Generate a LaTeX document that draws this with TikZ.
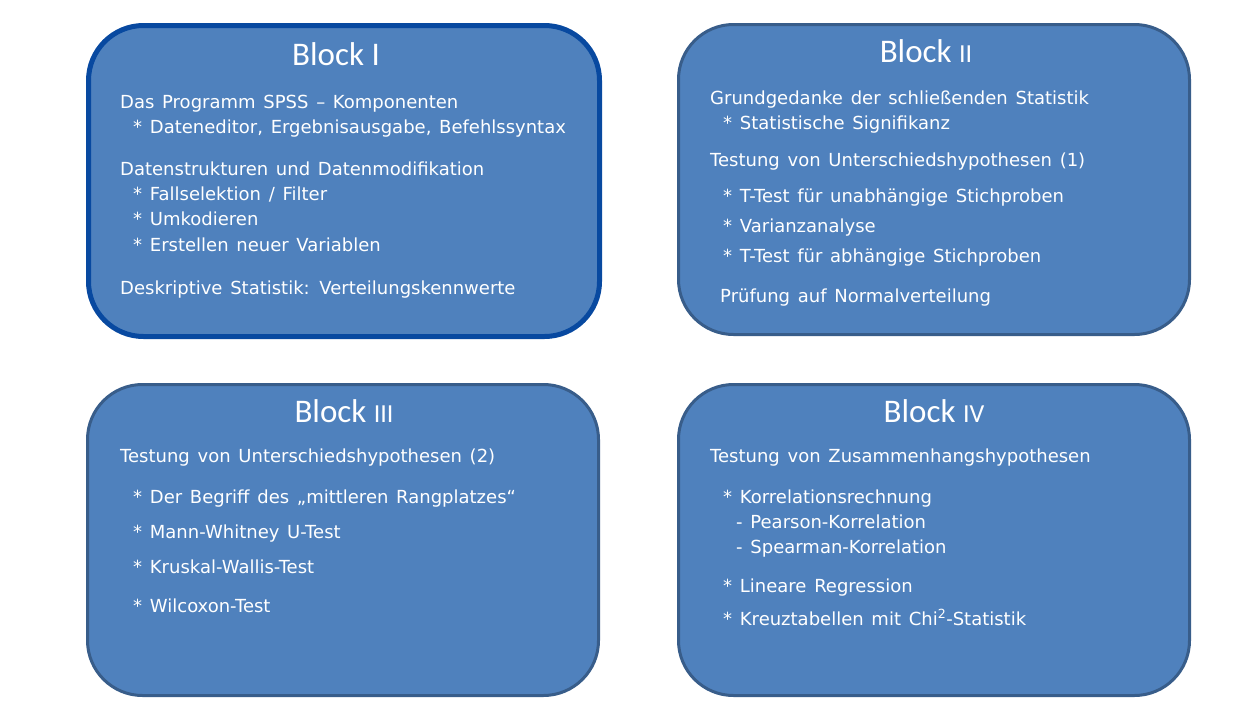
\documentclass[tikz,border=0pt]{standalone}
\usepackage{fontspec}
\setmainfont{DejaVu Sans}[WordSpace=1.35]
\newfontfamily\titlefont{Carlito}
\definecolor{boxfill}{HTML}{4F81BD}
\definecolor{boxedge}{HTML}{385D8A}
\definecolor{edgeone}{HTML}{0849A0}
\begin{document}
\begin{tikzpicture}[x=1pt,y=-1pt,
  box/.style={draw=boxedge, line width=3pt, fill=boxfill, rounded corners=55pt, anchor=north west, inner sep=0},
  txt/.style={text=white, font=\fontsize{18}{22}\selectfont, anchor=mid west, inner sep=0, yshift=-3.5pt},
  ttl/.style={text=white, font=\titlefont\fontsize{33}{36}\selectfont, anchor=center, inner sep=0}]
\useasboundingbox (0,0) rectangle (1240,718);
\fill[white] (0,0) rectangle (1240,718);
% boxes
\node[box, draw=edgeone, line width=5pt, minimum width=511pt, minimum height=311pt] (b1) at (86,23) {};
\node[box, minimum width=511pt, minimum height=310pt] (b2) at (677,23) {};
\node[box, minimum width=511pt, minimum height=311pt] (b3) at (86,383) {};
\node[box, minimum width=511pt, minimum height=311pt] (b4) at (677,383) {};
% titles
\node[ttl] (t1) at (336,54) {Block I};
\node[ttl] (t2) at (926,51) {Block {\fontsize{26}{30}\selectfont II}};
\node[ttl] (t3) at (344,411) {Block {\fontsize{26}{30}\selectfont III}};
\node[ttl] (t4) at (934,411) {Block {\fontsize{26}{30}\selectfont IV}};
% Block I
\node[txt] (a1) at (120,102) {Das Programm SPSS – Komponenten};
\node[txt] (a2) at (133,127) {* Dateneditor, Ergebnisausgabe, Befehlssyntax};
\node[txt] (a3) at (120,169) {Datenstrukturen und Datenmodifikation};
\node[txt] (a4) at (133,194) {* Fallselektion / Filter};
\node[txt] (a5) at (133,219) {* Umkodieren};
\node[txt] (a6) at (133,245) {* Erstellen neuer Variablen};
\node[txt] (a7) at (120,288) {Deskriptive Statistik: Verteilungskennwerte};
% Block II
\node[txt] (c1) at (710,98) {Grundgedanke der schließenden Statistik};
\node[txt] (c2) at (723,123) {* Statistische Signifikanz};
\node[txt] (c3) at (710,160) {Testung von Unterschiedshypothesen (1)};
\node[txt] (c4) at (723,196) {* T-Test für unabhängige Stichproben};
\node[txt] (c5) at (723,226) {* Varianzanalyse};
\node[txt] (c6) at (723,256) {* T-Test für abhängige Stichproben};
\node[txt] (c7) at (720,296) {Prüfung auf Normalverteilung};
% Block III
\node[txt] (d1) at (120,456) {Testung von Unterschiedshypothesen (2)};
\node[txt] (d2) at (133,497) {* Der Begriff des „mittleren Rangplatzes“};
\node[txt] (d3) at (133,532) {* Mann-Whitney U-Test};
\node[txt] (d4) at (133,567) {* Kruskal-Wallis-Test};
\node[txt] (d5) at (133,606) {* Wilcoxon-Test};
% Block IV
\node[txt] (e1) at (710,456) {Testung von Zusammenhangshypothesen};
\node[txt] (e2) at (723,497) {* Korrelationsrechnung};
\node[txt] (e3) at (736,522) {- Pearson-Korrelation};
\node[txt] (e4) at (736,547) {- Spearman-Korrelation};
\node[txt] (e5) at (723,586) {* Lineare Regression};
\node[txt] (e6) at (723,619) {* Kreuztabellen mit Chi\textsuperscript{2}-Statistik};
\end{tikzpicture}
\end{document}
